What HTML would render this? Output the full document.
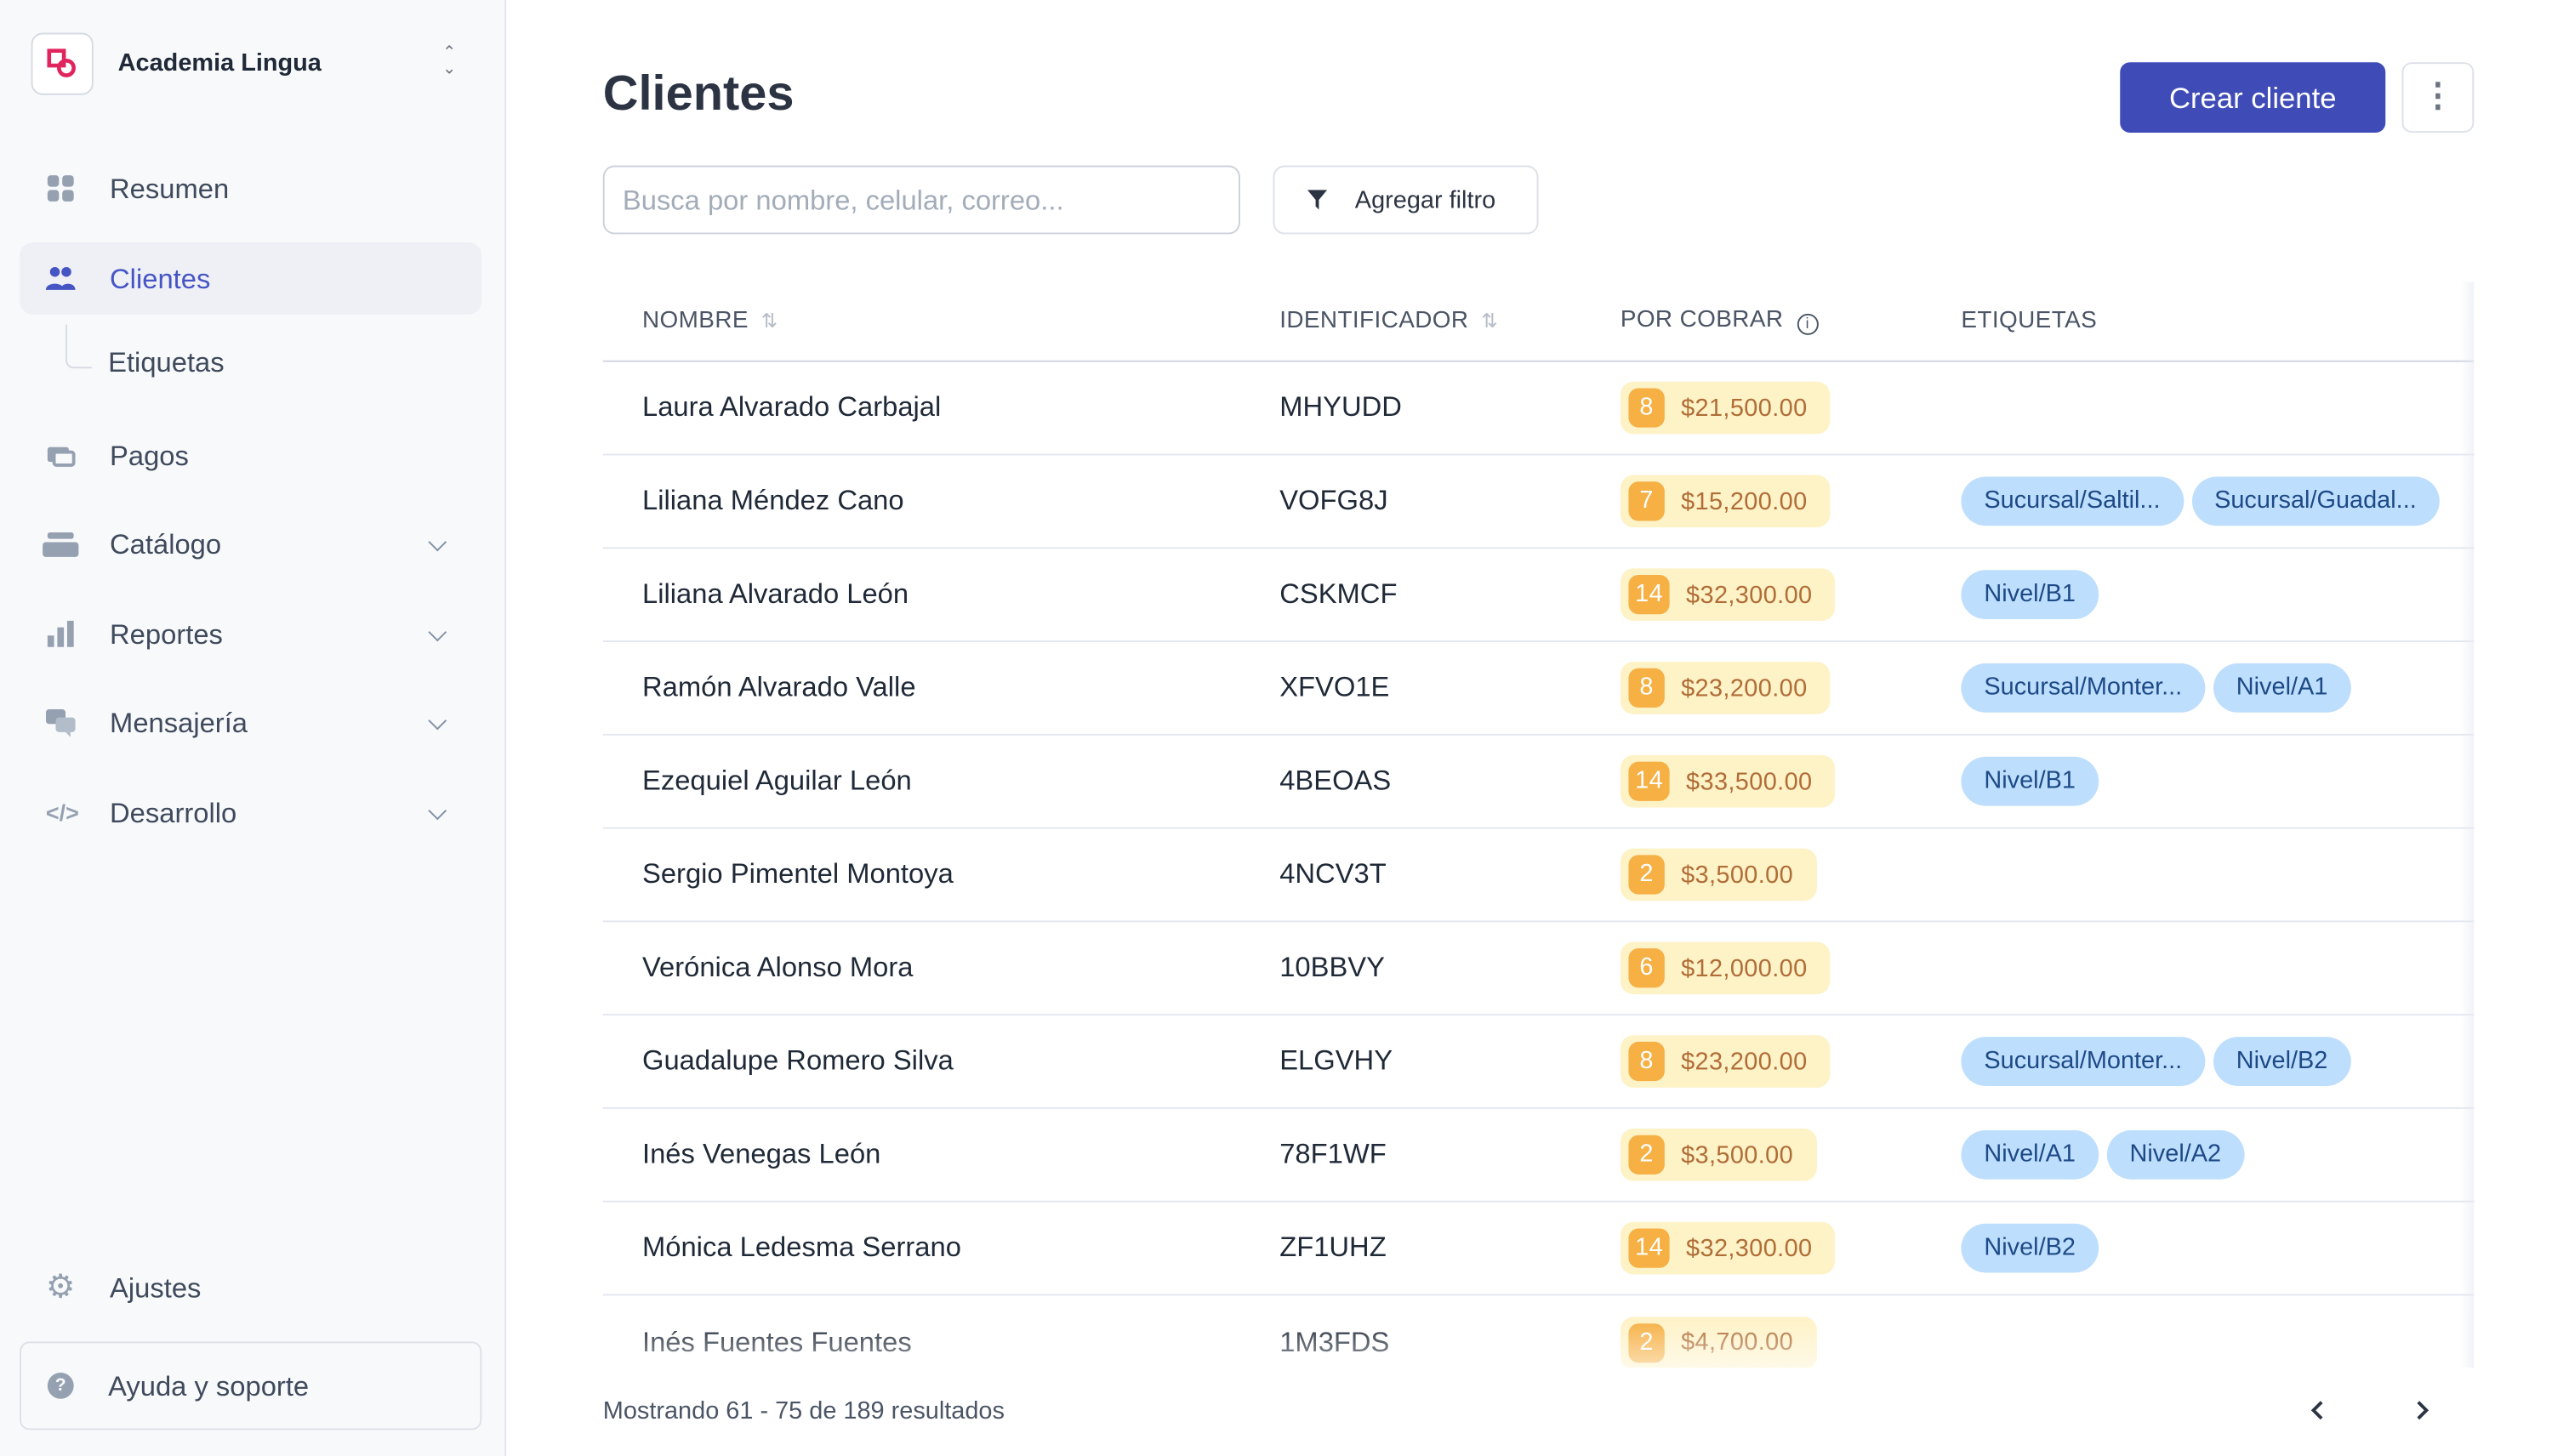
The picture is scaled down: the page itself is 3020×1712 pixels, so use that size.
<!DOCTYPE html>
<html><head><meta charset="utf-8"><style>
*{margin:0;padding:0;box-sizing:border-box}
html,body{width:3020px;height:1712px;overflow:hidden;background:#fff}
#s{position:absolute;left:0;top:0;width:1568px;height:889px;transform:scale(1.926);transform-origin:0 0;font-family:"Liberation Sans",sans-serif;color:#1f2937}
.a{position:absolute}
.side{left:0;top:0;width:309px;height:889px;background:#f8f9fb;border-right:1px solid #e1e5ec}
.nav{position:absolute;left:67px;font-size:17px;color:#3f4a5c;transform:translateY(-50%)}
.ic{position:absolute;left:28px;width:18px;height:18px;transform:translateY(-50%)}
.chev{position:absolute;left:263px;width:8px;height:8px;border-right:1.6px solid #8391a5;border-bottom:1.6px solid #8391a5;transform:translateY(-75%) rotate(45deg)}
.th{position:absolute;top:195px;transform:translateY(-50%);font-size:14.5px;color:#4b5565;letter-spacing:.2px}
.row{position:absolute;left:368px;width:1142px;height:57px;border-bottom:1px solid #e3e7ee}
.c{position:absolute;top:50%;transform:translateY(-50%);font-size:17px;color:#1f2937;white-space:nowrap}
.y{position:absolute;top:50%;transform:translateY(-50%);left:621px;height:32px;background:#fef2c7;border-radius:8px;display:flex;align-items:center;padding:0 14px 0 5px;font-size:15px;color:#b06d36;letter-spacing:.2px}
.y b{display:inline-block;background:#f6b044;color:#fff;font-weight:normal;height:24px;min-width:22px;padding:0 4px;border-radius:6px;text-align:center;line-height:24px;margin-right:10px;font-size:15px}
.tags{position:absolute;left:829px;top:50%;transform:translateY(-50%);display:flex;gap:5px}
.t{height:30px;line-height:30px;padding:0 14px;border-radius:15px;background:#bedefd;color:#1d4a87;font-size:15px;white-space:nowrap}
</style></head><body><div id="s">
<div class="a side"></div>
<div class="a" style="left:19px;top:20px;width:38px;height:38px;background:#fff;border:1px solid #d6dbe3;border-radius:7px"></div>
<svg class="a" style="left:28px;top:29px" width="20" height="20" viewBox="0 0 20 20"><rect x="2" y="2" width="9" height="9" fill="none" stroke="#e0245e" stroke-width="2.4"/><circle cx="12.5" cy="12.5" r="4.5" fill="none" stroke="#e0245e" stroke-width="2.4"/></svg>
<div class="a" style="left:72px;top:30px;font-size:15px;font-weight:bold;color:#1f2937">Academia Lingua</div>
<div class="a" style="left:270px;top:28px;font-size:10px;color:#6b7280;line-height:10px">⌃<br>⌄</div>
<div class="a" style="left:12px;top:148px;width:282px;height:44px;background:#eef0f6;border-radius:8px"></div>
<svg class="ic" style="top:115px" viewBox="0 0 18 18"><rect x="1" y="1" width="7" height="7" rx="2" fill="#95a0b1"/><rect x="10" y="1" width="7" height="7" rx="2" fill="#95a0b1"/><rect x="1" y="10" width="7" height="7" rx="2" fill="#95a0b1"/><rect x="10" y="10" width="7" height="7" rx="2" fill="#95a0b1"/></svg>
<div class="nav" style="top:116px">Resumen</div>
<svg class="ic" style="top:170px" viewBox="0 0 18 18"><circle cx="5.5" cy="5" r="3" fill="#4655c4"/><circle cx="12.5" cy="5" r="3" fill="#4655c4"/><path d="M0 16c0-5 11-5 11 0z M9 16c0-5 9-5 9 0z" fill="#4655c4"/></svg>
<div class="nav" style="top:171px;color:#4655c4">Clientes</div>
<div class="a" style="left:40px;top:198px;width:16px;height:27px;border-left:1px solid #d4d9e2;border-bottom:1px solid #d4d9e2;border-bottom-left-radius:5px"></div>
<div class="nav" style="top:222px;left:66px">Etiquetas</div>
<svg class="ic" style="top:278px" viewBox="0 0 18 18"><rect x="1" y="4" width="13" height="9" rx="1.5" fill="#95a0b1"/><rect x="5" y="7" width="12" height="8" rx="1.5" fill="#f8f9fb" stroke="#95a0b1" stroke-width="2"/></svg>
<div class="nav" style="top:279px">Pagos</div>
<svg class="ic" style="top:332px;width:22px;left:26px" viewBox="0 0 22 18"><rect x="3" y="2" width="16" height="4" rx="1.5" fill="#95a0b1"/><rect x="0" y="8" width="22" height="9" rx="2" fill="#95a0b1"/></svg>
<div class="nav" style="top:333px">Catálogo</div><div class="chev" style="top:333px"></div>
<svg class="ic" style="top:387px" viewBox="0 0 18 18"><rect x="1" y="10" width="4" height="7" fill="#95a0b1"/><rect x="7" y="5" width="4" height="12" fill="#95a0b1"/><rect x="13" y="1" width="4" height="16" fill="#95a0b1"/></svg>
<div class="nav" style="top:388px">Reportes</div><div class="chev" style="top:388px"></div>
<svg class="ic" style="top:441px" viewBox="0 0 18 18"><rect x="0" y="1" width="12" height="9" rx="2" fill="#95a0b1"/><rect x="6" y="6" width="12" height="9" rx="2" fill="#b3bcc9"/><path d="M12 15l3 3v-3z" fill="#b3bcc9"/></svg>
<div class="nav" style="top:442px">Mensajería</div><div class="chev" style="top:442px"></div>
<div class="ic" style="top:496px;font-size:14px;color:#95a0b1;font-weight:bold;line-height:18px">&lt;/&gt;</div>
<div class="nav" style="top:497px">Desarrollo</div><div class="chev" style="top:497px"></div>
<div class="ic" style="top:786px;font-size:20px;color:#95a0b1;line-height:18px">⚙</div>
<div class="nav" style="top:787px">Ajustes</div>
<div class="a" style="left:12px;top:819px;width:282px;height:54px;border:1px solid #dde1e8;border-radius:6px"></div>
<div class="ic" style="top:846px;left:29px;width:16px;height:16px;border-radius:8px;background:#95a0b1;color:#f8f9fb;font-size:11px;font-weight:bold;text-align:center;line-height:16px">?</div>
<div class="nav" style="top:847px;left:66px">Ayuda y soporte</div>

<div class="a" style="left:368px;top:41px;font-size:30px;font-weight:bold;color:#2c3443">Clientes</div>
<div class="a" style="left:1294px;top:38px;width:162px;height:43px;background:#3f4cb8;border-radius:6px;color:#fff;font-size:18px;text-align:center;line-height:44px">Crear cliente</div>
<div class="a" style="left:1466px;top:38px;width:44px;height:43px;border:1px solid #dde1e8;border-radius:6px;color:#6b7280;font-size:20px;text-align:center;line-height:41px;font-weight:bold">⋮</div>
<div class="a" style="left:368px;top:101px;width:389px;height:42px;border:1px solid #ccd2db;border-radius:7px;font-size:17px;color:#a3acb9;padding-left:11px;line-height:42px">Busca por nombre, celular, correo...</div>
<div class="a" style="left:777px;top:101px;width:162px;height:42px;border:1px solid #dde1e8;border-radius:7px;font-size:15px;color:#2c3443;line-height:42px;padding-left:49px">Agregar filtro</div>
<svg class="a" style="left:797px;top:115px" width="14" height="14" viewBox="0 0 14 14"><path d="M1 1h12l-5 6v6l-2-2v-4z" fill="#2c3443"/></svg>

<div class="th" style="left:392px;top:196px">NOMBRE <span style="color:#b5bcc7;font-size:12px">&nbsp;⇅</span></div>
<div class="th" style="left:781px;top:196px">IDENTIFICADOR <span style="color:#b5bcc7;font-size:12px">&nbsp;⇅</span></div>
<div class="th" style="left:989px;top:196px">POR COBRAR <span style="display:inline-block;width:13px;height:13px;border:1.3px solid #4b5565;border-radius:7px;font-size:9px;text-align:center;line-height:11px;vertical-align:-1px;margin-left:4px">i</span></div>
<div class="th" style="left:1197px;top:196px">ETIQUETAS</div>
<div class="a" style="left:368px;top:220px;width:1142px;height:1px;background:#cfd5df"></div>

<div class="row" style="top:221px"><div class="c" style="left:24px">Laura Alvarado Carbajal</div><div class="c" style="left:413px">MHYUDD</div><div class="y"><b>8</b>$21,500.00</div></div>
<div class="row" style="top:278px"><div class="c" style="left:24px">Liliana Méndez Cano</div><div class="c" style="left:413px">VOFG8J</div><div class="y"><b>7</b>$15,200.00</div><div class="tags"><span class="t">Sucursal/Saltil...</span><span class="t">Sucursal/Guadal...</span></div></div>
<div class="row" style="top:335px"><div class="c" style="left:24px">Liliana Alvarado León</div><div class="c" style="left:413px">CSKMCF</div><div class="y"><b>14</b>$32,300.00</div><div class="tags"><span class="t">Nivel/B1</span></div></div>
<div class="row" style="top:392px"><div class="c" style="left:24px">Ramón Alvarado Valle</div><div class="c" style="left:413px">XFVO1E</div><div class="y"><b>8</b>$23,200.00</div><div class="tags"><span class="t">Sucursal/Monter...</span><span class="t">Nivel/A1</span></div></div>
<div class="row" style="top:449px"><div class="c" style="left:24px">Ezequiel Aguilar León</div><div class="c" style="left:413px">4BEOAS</div><div class="y"><b>14</b>$33,500.00</div><div class="tags"><span class="t">Nivel/B1</span></div></div>
<div class="row" style="top:506px"><div class="c" style="left:24px">Sergio Pimentel Montoya</div><div class="c" style="left:413px">4NCV3T</div><div class="y"><b>2</b>$3,500.00</div></div>
<div class="row" style="top:563px"><div class="c" style="left:24px">Verónica Alonso Mora</div><div class="c" style="left:413px">10BBVY</div><div class="y"><b>6</b>$12,000.00</div></div>
<div class="row" style="top:620px"><div class="c" style="left:24px">Guadalupe Romero Silva</div><div class="c" style="left:413px">ELGVHY</div><div class="y"><b>8</b>$23,200.00</div><div class="tags"><span class="t">Sucursal/Monter...</span><span class="t">Nivel/B2</span></div></div>
<div class="row" style="top:677px"><div class="c" style="left:24px">Inés Venegas León</div><div class="c" style="left:413px">78F1WF</div><div class="y"><b>2</b>$3,500.00</div><div class="tags"><span class="t">Nivel/A1</span><span class="t">Nivel/A2</span></div></div>
<div class="row" style="top:734px"><div class="c" style="left:24px">Mónica Ledesma Serrano</div><div class="c" style="left:413px">ZF1UHZ</div><div class="y"><b>14</b>$32,300.00</div><div class="tags"><span class="t">Nivel/B2</span></div></div>
<div class="row" style="top:791px;border:none"><div class="c" style="left:24px">Inés Fuentes Fuentes</div><div class="c" style="left:413px">1M3FDS</div><div class="y"><b>2</b>$4,700.00</div></div>
<div class="a" style="left:368px;top:805px;width:1142px;height:31px;background:linear-gradient(rgba(255,255,255,0),rgba(255,255,255,.6))"></div>
<div class="a" style="left:368px;top:835px;width:1142px;height:54px;background:#fff"></div>
<div class="a" style="left:1502px;top:172px;width:8px;height:663px;background:linear-gradient(90deg,rgba(230,234,242,0),rgba(230,234,242,.6))"></div>
<div class="a" style="left:368px;top:853px;font-size:15px;color:#4b5565">Mostrando 61 - 75 de 189 resultados</div>
<svg class="a" style="left:1408px;top:854px" width="14" height="14" viewBox="0 0 14 14"><path d="M9 2L4 7l5 5" fill="none" stroke="#2c3443" stroke-width="2"/></svg>
<svg class="a" style="left:1471px;top:854px" width="14" height="14" viewBox="0 0 14 14"><path d="M5 2l5 5-5 5" fill="none" stroke="#2c3443" stroke-width="2"/></svg>
</div></body></html>
